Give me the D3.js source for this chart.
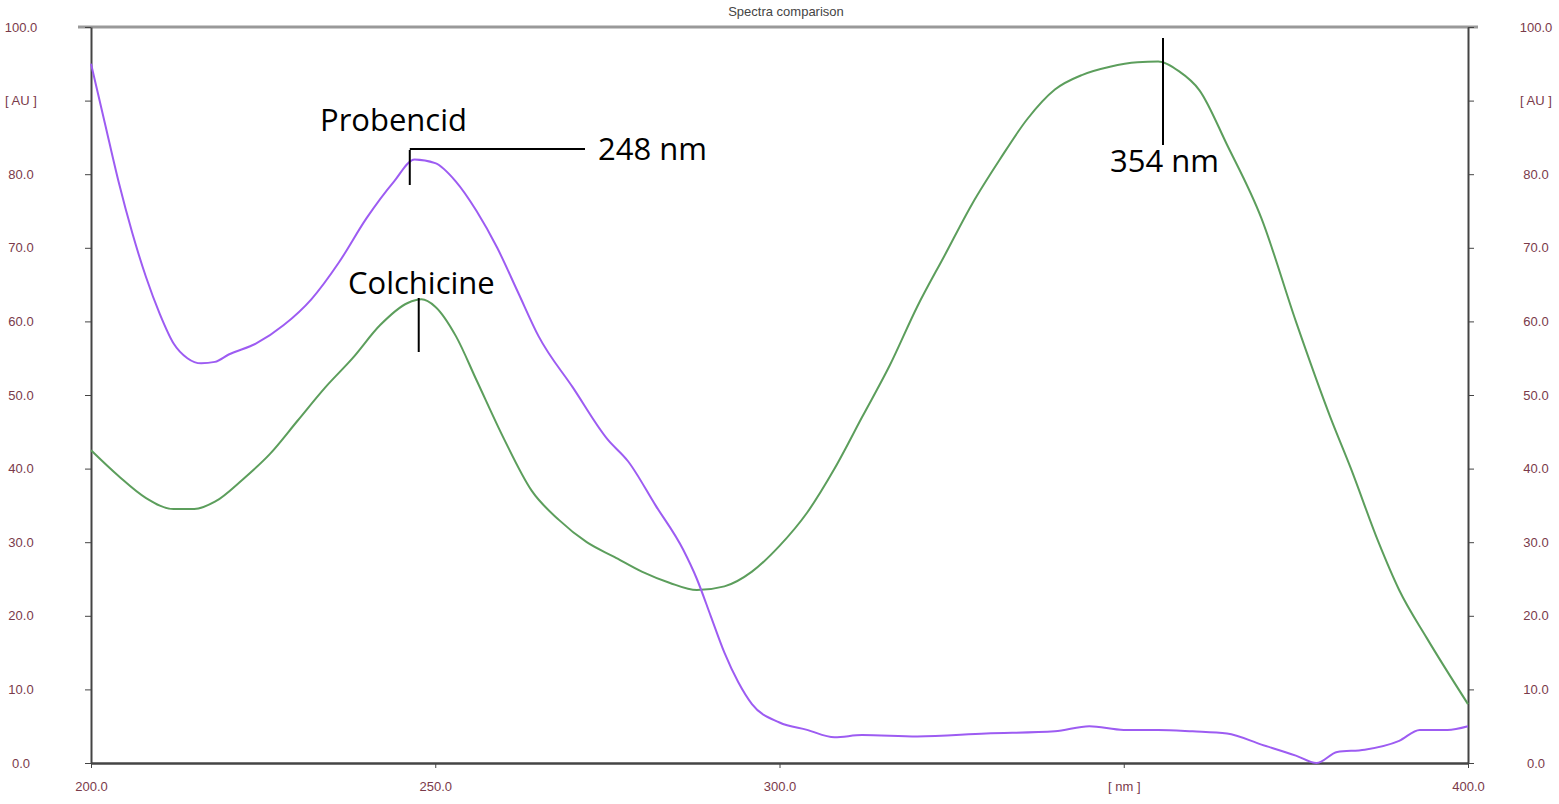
<!DOCTYPE html>
<html><head><meta charset="utf-8">
<script src="https://cdn.jsdelivr.net/npm/d3@7"></script>
<style>body{margin:0;background:#fff}</style>
</head><body><svg id="c" width="1559" height="804"></svg>
<script>
// spectra (wavelength nm, absorbance AU)
const probWl  = [200,202,204,206,208,210,212,214,216,218,220,224,228,232,236,240,244,247,250,253,256,259,262,265,270,275,278,282,286,288,290,292,294,296,300,304,308,312,320,330,340,345,350,355,360,365,370,375,378,381,385,390,393,397,400];
const probAbs = [95,87,79,72,66,61,57,55,54.3,54.5,55.5,57,59.5,63,68,74,79,82,81.5,79,75,70,64,58,51,44,41,35,29,25,20,15,11,8,5.5,4.5,3.5,3.8,3.6,4,4.3,5,4.5,4.5,4.3,4,2.5,1,0,1.5,1.8,3,4.5,4.5,5];
const colWl  = [200,204,208,212,215,218,222,226,230,234,238,242,246,248,250,253,256,260,264,268,272,276,280,284,288,292,296,300,304,308,312,316,320,324,328,332,336,340,344,348,352,355,358,361,365,370,375,380,383,387,390,394,400];
const colAbs = [42.5,39,36,34.5,34.5,35.5,38.5,42,46.5,51,55,59.5,62.5,63,62,58,52,44,37,33,30,28,26,24.5,23.5,24,26,29.5,34,40,47,54,62,69,76,82,87.5,91.5,93.5,94.6,95.2,95.3,94,91.4,84,74,60,47,40,30,23.5,17,8];
const xTicks = [200,250,300,350,400];
const xTickLabels = ["200.0","250.0","300.0","[ nm ]","400.0"];
const yTicks = d3.range(0,101,10);

const svg = d3.select("#c");
const x = d3.scaleLinear().domain([200,400]).range([91,1468]);
const y = d3.scaleLinear().domain([0,100]).range([763,27]);
const lab = "#7a3a4a";

// frame
svg.append("line").attr("x1",78).attr("x2",1478).attr("y1",y(100)).attr("y2",y(100)).attr("stroke","#999").attr("stroke-width",3);
svg.append("text").attr("x",786).attr("y",16).attr("text-anchor","middle").attr("font-family","Liberation Sans").attr("font-size",13).attr("fill","#444").text("Spectra comparison");

const ax = g => g.selectAll("path,line").attr("stroke","#444");
svg.append("g").attr("transform",`translate(0,${y(0)})`)
  .call(d3.axisBottom(x).tickValues(xTicks).tickFormat((d,i)=>xTickLabels[i]).tickSize(5).tickPadding(14).tickSizeOuter(0))
  .call(ax).call(g=>g.select(".domain").attr("stroke-width",2.5))
  .selectAll("text").attr("font-size",13).attr("fill",lab).attr("font-family","Liberation Sans");
[[d3.axisLeft(y),91,64],[d3.axisRight(y),1468,62]].forEach(([a,px,pad])=>{
  svg.append("g").attr("transform",`translate(${px},0)`)
    .call(a.tickValues(yTicks).tickFormat(d=>d===90?"[ AU ]":d.toFixed(1)).tickSize(6).tickPadding(pad).tickSizeOuter(0))
    .call(ax).call(g=>g.select(".domain").attr("stroke-width",2))
    .selectAll("text").attr("font-size",13).attr("fill",lab).attr("font-family","Liberation Sans")
    .attr("text-anchor","middle");
});

const line = d3.line().x(d=>x(d[0])).y(d=>y(d[1])).curve(d3.curveMonotoneX);
svg.append("path").datum(colWl.map((w,i)=>[w,colAbs[i]])).attr("d",line).attr("fill","none").attr("stroke","#5c9e5c").attr("stroke-width",2);
svg.append("path").datum(probWl.map((w,i)=>[w,probAbs[i]])).attr("d",line).attr("fill","none").attr("stroke","#9d5cf2").attr("stroke-width",2);

// annotations
const ann = svg.append("g").attr("stroke","#000").attr("stroke-width",2);
ann.append("line").attr("x1",x(246.3)).attr("x2",x(246.3)).attr("y1",150).attr("y2",185);
ann.append("line").attr("x1",x(246.3)).attr("x2",585).attr("y1",149).attr("y2",149);
ann.append("line").attr("x1",x(247.6)).attr("x2",x(247.6)).attr("y1",298).attr("y2",352);
ann.append("line").attr("x1",x(355.7)).attr("x2",x(355.7)).attr("y1",38).attr("y2",145);
const t = (tx,ty,s)=>svg.append("text").attr("x",tx).attr("y",ty).attr("font-family","Open Sans").attr("font-size",31).attr("fill","#000").text(s);
t(320,131,"Probencid"); t(598,160,"248 nm"); t(348,294,"Colchicine"); t(1110,172,"354 nm");
</script></body></html>
